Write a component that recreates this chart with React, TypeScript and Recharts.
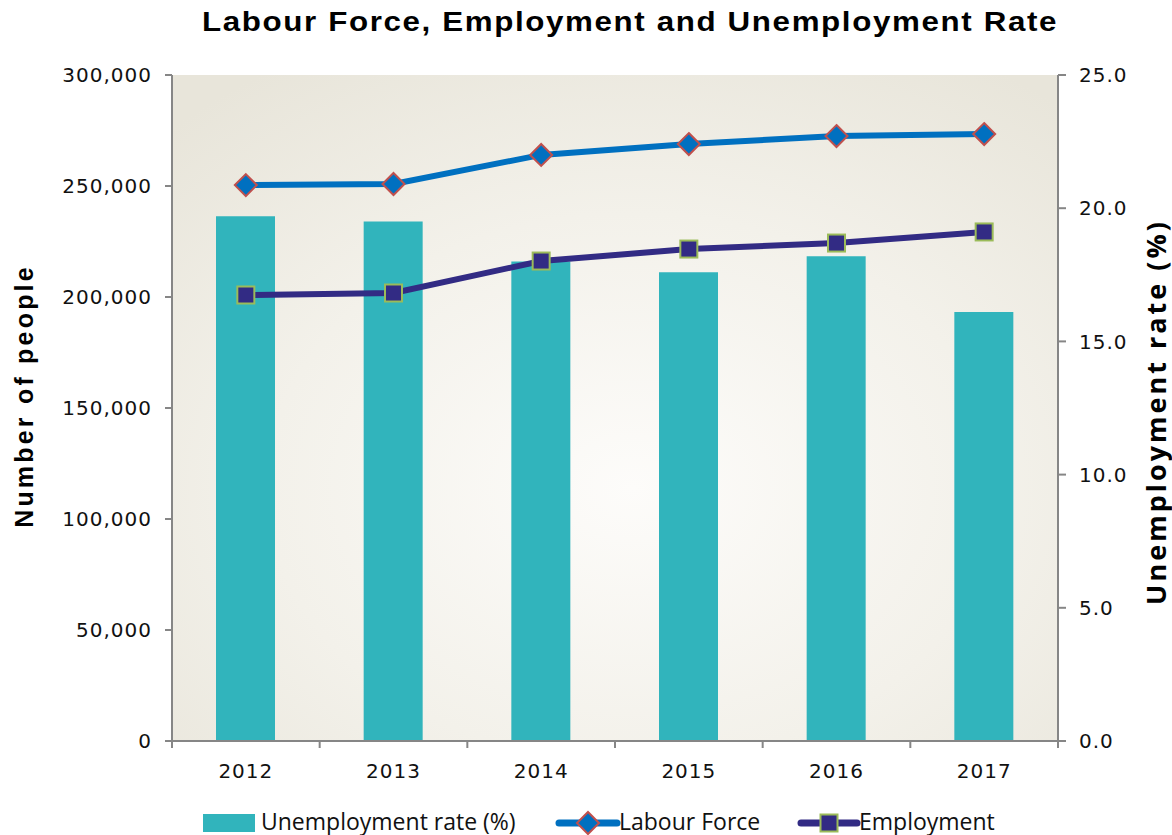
import React from "react"
import { ComposedChart, Bar, Line, XAxis, YAxis, Legend } from "recharts"

const years = ["2012", "2013", "2014", "2015", "2016", "2017"]
const unemploymentRate = [19.7, 19.5, 18.0, 17.6, 18.2, 16.1]
const labourForce = [250400, 250900, 264000, 268900, 272500, 273400]
const employment = [200900, 201800, 216200, 221600, 224300, 229300]
const leftTicks = [0, 50000, 100000, 150000, 200000, 250000, 300000]
const rightTicks = [0, 5, 10, 15, 20, 25]

const data = years.map((year, i) => ({
  year,
  rate: unemploymentRate[i],
  labour: labourForce[i],
  employment: employment[i],
}))

const W = 1172
const H = 835
const LEFT_W = 172
const RIGHT_W = 114
const BAND = (W - LEFT_W - RIGHT_W) / years.length

const TEAL = "#31B4BC"
const BLUE = "#0070C0"
const NAVY = "#322B84"
const AXIS = "#868686"
const tickFont = "'DejaVu Sans', Verdana, sans-serif"

const XTick = (props: any) => {
  const { x, y, payload, index } = props
  return (
    <g>
      <line x1={x - BAND / 2} x2={x - BAND / 2} y1={y} y2={y + 7} stroke={AXIS} strokeWidth={2} />
      {index === years.length - 1 && (
        <line x1={x + BAND / 2} x2={x + BAND / 2} y1={y} y2={y + 7} stroke={AXIS} strokeWidth={2} />
      )}
      <text x={x} y={y + 37} textAnchor="middle" fontSize={20} letterSpacing={1} fill="#111" fontFamily={tickFont}>
        {payload.value}
      </text>
    </g>
  )
}

const Diamond = (props: any) => {
  const { cx, cy } = props
  if (cx == null || cy == null) return null
  const r = 11
  return (
    <path
      d={`M${cx},${cy - r}L${cx + r},${cy}L${cx},${cy + r}L${cx - r},${cy}Z`}
      fill={BLUE}
      stroke="#C0504D"
      strokeWidth={2}
    />
  )
}

const Square = (props: any) => {
  const { cx, cy } = props
  if (cx == null || cy == null) return null
  const s = 17
  return <rect x={cx - s / 2} y={cy - s / 2} width={s} height={s} fill={NAVY} stroke="#9BBB59" strokeWidth={2} />
}

// rotated axis title
const AxisTitle = ({ x, y, text, font, size, spacing }: any) => (
  <text
    x={x}
    y={y}
    transform={`rotate(-90, ${x}, ${y})`}
    textAnchor="middle"
    dominantBaseline="central"
    fontSize={size}
    fontWeight="bold"
    letterSpacing={spacing}
    fill="#000"
    fontFamily={font}
  >
    {text}
  </text>
)

const legendText: React.CSSProperties = {
  fontFamily: "'Open Sans', 'Noto Sans', sans-serif",
  fontSize: 23,
  color: "#111",
  whiteSpace: "nowrap",
}

const LegendContent = () => (
  <div style={{ position: "relative", height: 30, width: W }}>
    <div style={{ position: "absolute", left: 203, top: 13, width: 52, height: 18, background: TEAL }} />
    <div style={{ ...legendText, position: "absolute", left: 261, top: 4 }}>Unemployment rate (%)</div>
    <svg style={{ position: "absolute", left: 555, top: 9 }} width={66} height={26}>
      <line x1={4} x2={62} y1={13} y2={13} stroke={BLUE} strokeWidth={7} strokeLinecap="round" />
      <Diamond cx={33} cy={13} />
    </svg>
    <div style={{ ...legendText, position: "absolute", left: 619, top: 4 }}>Labour Force</div>
    <svg style={{ position: "absolute", left: 797, top: 9 }} width={64} height={26}>
      <line x1={4} x2={60} y1={13} y2={13} stroke={NAVY} strokeWidth={7} strokeLinecap="round" />
      <Square cx={32} cy={13} />
    </svg>
    <div style={{ ...legendText, position: "absolute", left: 859, top: 4 }}>Employment</div>
  </div>
)

export default function App() {
  return (
    <div style={{ position: "absolute", left: 0, top: 0, width: W, height: H, background: "#fff" }}>
      <div
        style={{
          position: "absolute",
          left: 0,
          top: 7,
          width: 1260,
          textAlign: "center",
          fontFamily: "'Liberation Sans', Arial, sans-serif",
          fontWeight: "bold",
          fontSize: 27,
          letterSpacing: 1.4,
          color: "#000",
          transform: "scaleX(1.16)",
          transformOrigin: "630px 0",
        }}
      >
        Labour Force, Employment and Unemployment Rate
      </div>
      <ComposedChart width={W} height={H} data={data} margin={{ top: 75, right: 0, bottom: 4, left: 0 }}>
        <defs>
          <radialGradient id="plotBg" cx="52%" cy="62%" r="75%">
            <stop offset="0%" stopColor="#FDFCFA" />
            <stop offset="55%" stopColor="#F3F1EA" />
            <stop offset="100%" stopColor="#E8E5DA" />
          </radialGradient>
        </defs>
        <rect x={LEFT_W} y={75} width={W - LEFT_W - RIGHT_W} height={666} fill="url(#plotBg)" />
        <XAxis
          dataKey="year"
          height={60}
          tickSize={0}
          tickMargin={0}
          tick={<XTick />}
          tickLine={false}
          axisLine={{ stroke: AXIS, strokeWidth: 2 }}
        />
        <YAxis
          yAxisId="left"
          width={LEFT_W}
          domain={[0, 300000]}
          ticks={leftTicks}
          tickFormatter={(v: number) => v.toLocaleString("en-US")}
          tickSize={7}
          tickMargin={13}
          tick={{ fontSize: 20, fill: "#111", fontFamily: tickFont, letterSpacing: 1 }}
          tickLine={{ stroke: AXIS, strokeWidth: 2 }}
          axisLine={{ stroke: AXIS, strokeWidth: 2 }}
          label={{
            content: () => (
              <AxisTitle
                x={24}
                y={396}
                text="Number of people"
                size={25}
                spacing={3.2}
                font="'Liberation Sans', Arial, sans-serif"
              />
            ),
          }}
        />
        <YAxis
          yAxisId="right"
          orientation="right"
          width={RIGHT_W}
          domain={[0, 25]}
          ticks={rightTicks}
          tickFormatter={(v: number) => v.toFixed(1)}
          tickSize={8}
          tickMargin={13}
          tick={{ fontSize: 20, fill: "#111", fontFamily: tickFont, letterSpacing: 1 }}
          tickLine={{ stroke: AXIS, strokeWidth: 2 }}
          axisLine={{ stroke: AXIS, strokeWidth: 2 }}
          label={{
            content: () => (
              <AxisTitle
                x={1155}
                y={412}
                text="Unemployment rate (%)"
                size={27}
                spacing={3}
                font="'Open Sans', 'Noto Sans', sans-serif"
              />
            ),
          }}
        />
        <Bar yAxisId="right" dataKey="rate" fill={TEAL} barSize={59} isAnimationActive={false} />
        <Line
          yAxisId="left"
          dataKey="labour"
          stroke={BLUE}
          strokeWidth={6}
          dot={<Diamond />}
          activeDot={false}
          isAnimationActive={false}
        />
        <Line
          yAxisId="left"
          dataKey="employment"
          stroke={NAVY}
          strokeWidth={6}
          dot={<Square />}
          activeDot={false}
          isAnimationActive={false}
        />
        <Legend verticalAlign="bottom" content={<LegendContent />} wrapperStyle={{ left: 0, width: W }} />
      </ComposedChart>
    </div>
  )
}
